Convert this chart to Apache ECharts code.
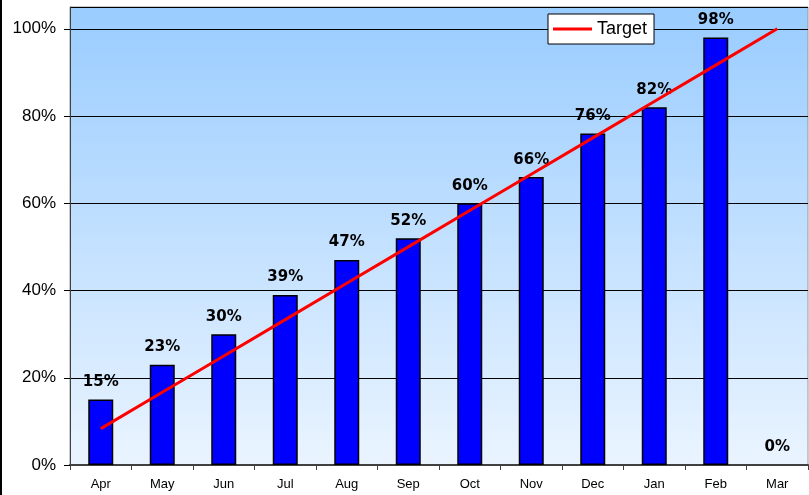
<!DOCTYPE html>
<html>
<head>
<meta charset="utf-8">
<script src="https://cdn.jsdelivr.net/npm/echarts@6/dist/echarts.min.js"></script>
<style>
html, body { margin: 0; padding: 0; background: #fff; }
#main { width: 809px; height: 495px; }
</style>
</head>
<body>
<div id="main"></div>
<script>
var months = ['Apr', 'May', 'Jun', 'Jul', 'Aug', 'Sep', 'Oct', 'Nov', 'Dec', 'Jan', 'Feb', 'Mar'];
var actual = [0.15, 0.23, 0.30, 0.39, 0.47, 0.52, 0.60, 0.66, 0.76, 0.82, 0.98, 0.00];
var target = [0.0833, 0.1667, 0.25, 0.3333, 0.4167, 0.50, 0.5833, 0.6667, 0.75, 0.8333, 0.9167, 1.00];

var chartDom = document.getElementById('main');
var myChart = echarts.init(chartDom, null);

// zero bars get no outline, like the reference
var barData = actual.map(function (v) {
    return v === 0 ? { value: v, itemStyle: { borderWidth: 0, opacity: 0 } } : v;
});

var option = {
    animation: false,
    textStyle: { fontFamily: 'Liberation Sans' },
    graphic: [
        { type: 'rect', left: 0, top: 0, shape: { width: 2, height: 495 }, style: { fill: '#000' } }
    ],
    grid: {
        left: 70, right: 1, top: 7, bottom: 30,
        show: true,
        borderColor: '#999',
        borderWidth: 1,
        backgroundColor: new echarts.graphic.LinearGradient(0, 0, 0, 1, [
            { offset: 0, color: '#99ccff' },
            { offset: 1, color: '#eaf4ff' }
        ])
    },
    legend: {
        data: ['Target'],
        left: 548, top: 14,
        backgroundColor: '#fff',
        borderColor: '#000',
        borderWidth: 1,
        padding: [6, 7, 6, 5],
        itemWidth: 39,
        itemHeight: 3,
        itemGap: 0,
        icon: 'rect',
        textStyle: { fontSize: 18, color: '#000', fontFamily: 'Liberation Sans', padding: [0, 0, 0, 0] }
    },
    xAxis: {
        type: 'category',
        data: months,
        axisLine: { lineStyle: { color: '#404040', width: 2 } },
        axisTick: { show: true, length: 5, lineStyle: { color: '#404040' } },
        axisLabel: { fontSize: 13, color: '#000', margin: 13 }
    },
    yAxis: {
        type: 'value',
        min: 0, max: 1.05, interval: 0.2,
        axisLine: { show: true, lineStyle: { color: '#404040', width: 1 } },
        axisTick: { show: true, length: 6, lineStyle: { color: '#000' } },
        axisLabel: {
            fontSize: 17, color: '#000', margin: 14,
            showMaxLabel: false,
            formatter: function (v) { return Math.round(v * 100) + '%'; }
        },
        splitLine: { lineStyle: { color: '#000', width: 1 } }
    },
    series: [
        {
            name: 'Actual',
            type: 'bar',
            data: barData,
            barWidth: 25,
            itemStyle: { color: '#0000ff', borderColor: '#000', borderWidth: 1.5 },
            label: {
                show: true,
                position: 'top',
                distance: 10,
                fontFamily: 'DejaVu Sans',
                fontWeight: 'bold',
                fontSize: 15,
                color: '#000',
                opacity: 1,
                formatter: function (p) { return Math.round(p.value * 100) + '%'; }
            }
        },
        {
            name: 'Target',
            type: 'line',
            data: target,
            symbol: 'none',
            lineStyle: { color: '#ff0000', width: 3 },
            itemStyle: { color: '#ff0000' }
        }
    ]
};

myChart.setOption(option);
</script>
</body>
</html>
